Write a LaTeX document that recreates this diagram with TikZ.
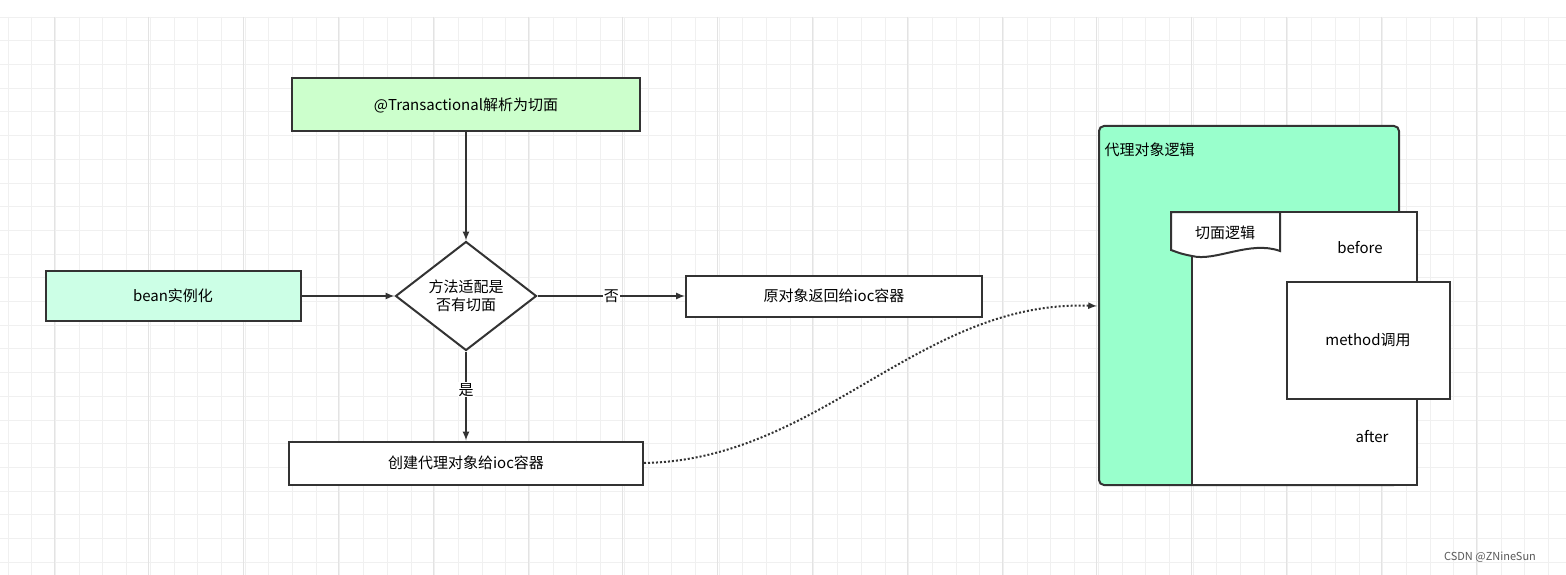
\documentclass[tikz,border=0pt]{standalone}
\usepackage{fontspec}
\setmainfont{Noto Sans CJK SC}
\usetikzlibrary{shapes.geometric}
\definecolor{lineC}{HTML}{333333}
\definecolor{topG}{HTML}{CCFFCC}
\definecolor{beanG}{HTML}{CCFFE6}
\definecolor{proxyG}{HTML}{99FFCC}
\tikzset{
  box/.style={draw=lineC, line width=2pt, minimum height=#1, inner sep=0pt, font=\fontsize{15}{18}\selectfont},
  arr/.style={-latex, draw=lineC, line width=2pt},
  lbl/.style={fill=white, inner sep=1pt, font=\fontsize{15}{18}\selectfont}
}
\begin{document}
\begin{tikzpicture}[x=1pt,y=-1pt]
\useasboundingbox (0,0) rectangle (1566,575);
%%% grid background
\fill[white] (0,0) rectangle (1566,575);
\foreach \i in {0,...,66} {
  \draw[gray!12, line width=0.8pt] (8+23.7*\i,17) -- (8+23.7*\i,575);
}
\foreach \j in {0,...,23} {
  \draw[gray!12, line width=0.8pt] (0,17+23.7*\j) -- (1566,17+23.7*\j);
}
\foreach \i in {0,...,16} {
  \draw[gray!22, line width=0.8pt] (54+94.8*\i,17) -- (54+94.8*\i,575);
}

%%% flow part
\node[box=53pt, minimum width=348pt, fill=topG] (T) at (466,105) {@Transactional解析为切面};
\node[box=50pt, minimum width=255pt, fill=beanG] (B) at (173,296) {bean实例化};
\node[diamond, aspect=1.3, draw=lineC, line width=2pt, fill=white, minimum width=141pt, minimum height=109pt, inner sep=0pt, align=center, font=\fontsize{15}{18}\selectfont] (D) at (466,296) {方法适配是\\否有切面};
\node[box=41pt, minimum width=296pt, fill=white] (O) at (834,296) {原对象返回给ioc容器};
\node[box=43pt, minimum width=354pt, fill=white] (C) at (466,463) {创建代理对象给ioc容器};

\draw[arr] (T) -- (D);
\draw[arr] (B) -- (D);
\draw[arr] (D) -- node[lbl] {否} (O);
\draw[arr] (D) -- node[lbl, pos=0.43] {是} (C);

%%% proxy part
\draw[draw=lineC, line width=2pt, fill=proxyG, rounded corners=5pt] (1099,126) rectangle (1399,485);
\node[anchor=west, font=\fontsize{15}{18}\selectfont] (P) at (1101,150) {代理对象逻辑};
\draw[draw=lineC, line width=2pt, fill=white] (1192,212) rectangle (1417,485);
\draw[draw=lineC, line width=2pt, fill=white] (1171,212) -- (1280,212) -- (1280,251)
  .. controls (1250,240) and (1215,262) .. (1192,256) .. controls (1182,254) .. (1171,250) -- cycle;
\node[font=\fontsize{15}{18}\selectfont] (A) at (1225,233) {切面逻辑};
\node[font=\fontsize{15}{18}\selectfont] (BF) at (1360,248) {before};
\node[font=\fontsize{15}{18}\selectfont] (AF) at (1372,437) {after};
\node[box=117pt, minimum width=163pt, fill=white] (M) at (1368,340) {method调用};

\coordinate (Pin) at (1097,306);
\draw[-latex, draw=lineC, line width=2pt, dotted] (C.east) .. controls (820,460) and (920,300) .. (Pin);

\node[text=gray!70!black, font=\fontsize{11}{13}\selectfont] (S) at (1490,557) {CSDN @ZNineSun};
\end{tikzpicture}
\end{document}
